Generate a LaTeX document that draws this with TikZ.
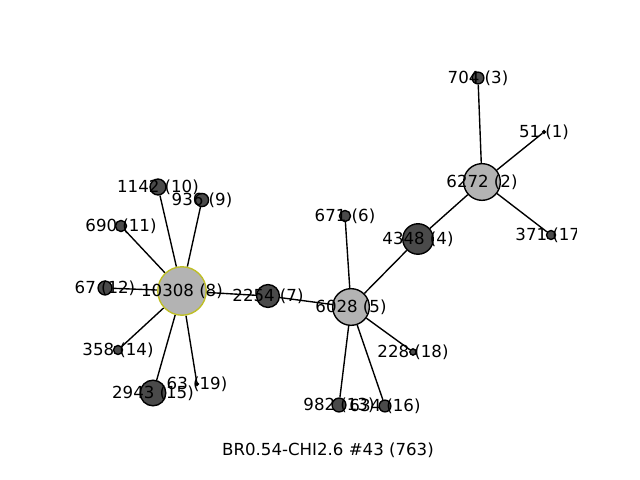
\documentclass[tikz,border=0pt]{standalone}
\usepackage{fontspec}
\setmainfont{DejaVu Sans}
\usetikzlibrary{backgrounds}
\definecolor{hubgray}{RGB}{179,179,179}
\definecolor{leafgray}{RGB}{74,74,74}
\definecolor{ringyellow}{RGB}{191,191,38}

\begin{document}
\begin{tikzpicture}[x=0.01in,y=-0.01in,
    hub/.style={circle,draw=black,fill=hubgray,line width=1pt,inner sep=0pt},
    leaf/.style={circle,draw=black,fill=leafgray,line width=1pt,inner sep=0pt},
    link/.style={line width=1pt},
    tag/.style={font=\fontsize{12pt}{14pt}\selectfont,inner sep=0pt}]
    \useasboundingbox (0,0) rectangle (640,480);

    \node[hub,draw=ringyellow,minimum size=35pt] (n8) at (182,291) {};
    \node[hub,minimum size=26.5pt] (n5) at (351,307) {};
    \node[hub,minimum size=26.5pt] (n2) at (482,182) {};
    \node[leaf,minimum size=22pt] (n4) at (418,239) {};
    \node[leaf,minimum size=18.5pt] (n15) at (153,393) {};
    \node[leaf,minimum size=16.5pt] (n7) at (268,296) {};
    \node[leaf,minimum size=11.5pt] (n10) at (158,187) {};
    \node[leaf,minimum size=9.5pt] (n9) at (202,200) {};
    \node[leaf,minimum size=8pt] (n11) at (121,226) {};
    \node[leaf,minimum size=10pt] (n12) at (105,288) {};
    \node[leaf,minimum size=6.5pt] (n14) at (118,350) {};
    \node[leaf,minimum size=2pt] (n19) at (197,384) {};
    \node[leaf,minimum size=8pt] (n6) at (345,216) {};
    \node[leaf,minimum size=4.5pt] (n18) at (413,352) {};
    \node[leaf,minimum size=10pt] (n13) at (339,405) {};
    \node[leaf,minimum size=8.5pt] (n16) at (385,406) {};
    \node[leaf,minimum size=8.5pt] (n3) at (478,78) {};
    \node[leaf,minimum size=2pt] (n1) at (544,132) {};
    \node[leaf,minimum size=6.5pt] (n17) at (551,235) {};

    \begin{scope}[on background layer]
    \foreach \a/\b in {n8/n7,n7/n5,n8/n10,n8/n9,n8/n11,n8/n12,n8/n14,n8/n15,n8/n19,
        n5/n6,n5/n4,n5/n18,n5/n13,n5/n16,n4/n2,n2/n3,n2/n1,n2/n17}
        \draw[link] (\a) -- (\b);
    \end{scope}

    \begin{scope}
    \clip (0,0) rectangle (576,480);
    \node[tag] (l8) at (n8) {10308 (8)};
    \node[tag] (l5) at (n5) {6028 (5)};
    \node[tag] (l2) at (n2) {6272 (2)};
    \node[tag] (l4) at (n4) {4348 (4)};
    \node[tag] (l15) at (n15) {2943 (15)};
    \node[tag] (l7) at (n7) {2254 (7)};
    \node[tag] (l10) at (n10) {1142 (10)};
    \node[tag] (l9) at (n9) {936 (9)};
    \node[tag] (l11) at (n11) {690 (11)};
    \node[tag] (l12) at (n12) {67 (12)};
    \node[tag] (l14) at (n14) {358 (14)};
    \node[tag] (l19) at (n19) {63 (19)};
    \node[tag] (l6) at (n6) {671 (6)};
    \node[tag] (l18) at (n18) {228 (18)};
    \node[tag] (l13) at (n13) {982 (13)};
    \node[tag] (l16) at (n16) {634 (16)};
    \node[tag] (l3) at (n3) {704 (3)};
    \node[tag] (l1) at (n1) {51 (1)};
    \node[tag] (l17) at (n17) {371 (17)};
    \end{scope}

    \node[tag] (caption) at (328,450) {BR0.54-CHI2.6 \#43 (763)};
\end{tikzpicture}
\end{document}
